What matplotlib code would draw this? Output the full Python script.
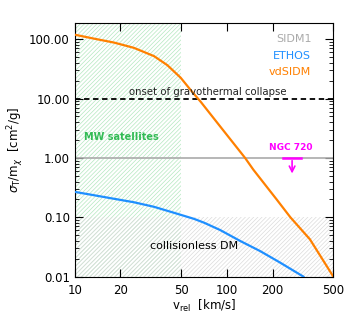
import numpy as np
import matplotlib
matplotlib.use("Agg")
import matplotlib.pyplot as plt
from matplotlib.ticker import FixedLocator, NullFormatter, LogLocator

# Data
v_vd = [10, 13.4, 18.1, 24.5, 33.2, 40.6, 49.7, 57.8, 67.3, 90.2, 131.6, 149, 212, 261, 351, 500]
s_vd = [119, 102, 87.7, 71.4, 51.8, 36.5, 22.4, 13.9, 8.8, 3.4, 1.0, 0.635, 0.2, 0.1, 0.0425, 0.01]
v_eth = [10, 13.4, 18.1, 24.5, 33.2, 44.9, 60.8, 70.8, 90.2, 122, 165, 223, 318]
s_eth = [0.268, 0.235, 0.205, 0.179, 0.150, 0.119, 0.094, 0.081, 0.061, 0.040, 0.027, 0.0173, 0.01]
sidm1 = 1.0
gravo = 10.0
xticks = [10, 20, 50, 100, 200, 500]
yticks = [0.01, 0.1, 1, 10, 100]
ytick_labels = ["0.01", "0.10", "1.00", "10.00", "100.00"]
ngc_v = 268
ngc_lim = 1.0

plt.rcParams['hatch.linewidth'] = 0.5
fig = plt.figure(figsize=(3.44, 3.14), dpi=100)
ax = fig.add_axes([0.217, 0.119, 0.752, 0.809])
ax.set_xscale('log')
ax.set_yscale('log')
ax.set_xlim(10, 500)
ax.set_ylim(0.01, 190)

# hatched regions
ax.fill_between([10, 50], [0.01, 0.01], [190, 190], facecolor='none',
                edgecolor='#b4e8c0', hatch='/' * 8, linewidth=0, zorder=0)
ax.fill_between([10, 500], [0.01, 0.01], [0.1, 0.1], facecolor='none',
                edgecolor='#dcdcdc', hatch='/' * 8, linewidth=0, zorder=0)

ax.axhline(sidm1, color='#aaaaaa', lw=1.2, zorder=2)
ax.axhline(gravo, color='black', lw=1.3, ls=(0, (3, 2)), zorder=2)
ax.plot(v_eth, s_eth, color='#1f8fff', lw=1.6, zorder=3)
ax.plot(v_vd, s_vd, color='#ff8000', lw=1.6, zorder=3)

# NGC 720 upper limit
ax.plot([ngc_v * 0.873, ngc_v * 1.145], [ngc_lim, ngc_lim], color='magenta', lw=1.8, zorder=4)
ax.annotate('', xy=(ngc_v, 0.49), xytext=(ngc_v, ngc_lim),
            arrowprops=dict(arrowstyle='->', color='magenta', lw=1.2), zorder=4)
ax.text(264, 1.5, 'NGC 720', color='magenta', fontsize=6.5,
        fontweight='bold', ha='center', va='center')

ax.text(75, 10.6, 'onset of gravothermal collapse', fontsize=7.3,
        ha='center', va='bottom', color='#222222')
ax.text(11.5, 2.28, 'MW satellites', color='#33bb55', fontsize=7,
        fontweight='bold', ha='left', va='center')
ax.text(60.7, 0.0327, 'collisionless DM', color='black', fontsize=8,
        ha='center', va='center')

ax.text(0.915, 0.955, 'SIDM1', color='#aaaaaa', fontsize=8, ha='right', va='top',
        transform=ax.transAxes)
ax.text(0.915, 0.89, 'ETHOS', color='#1f8fff', fontsize=8, ha='right', va='top',
        transform=ax.transAxes)
ax.text(0.915, 0.825, 'vdSIDM', color='#ff8000', fontsize=8, ha='right', va='top',
        transform=ax.transAxes)

ax.xaxis.set_major_locator(FixedLocator(xticks))
ax.set_xticklabels([str(t) for t in xticks])
ax.xaxis.set_minor_locator(FixedLocator([]))
ax.yaxis.set_major_locator(FixedLocator(yticks))
ax.set_yticklabels(ytick_labels)
ax.yaxis.set_minor_locator(LogLocator(base=10, subs=np.arange(2, 10)))
ax.yaxis.set_minor_formatter(NullFormatter())
ax.tick_params(which='both', direction='in', top=True, right=True, labelsize=8.5)
ax.tick_params(which='major', length=6, width=0.8)
ax.tick_params(which='minor', length=3, width=0.6)
ax.tick_params(axis='x', pad=5)
for s in ax.spines.values():
    s.set_linewidth(0.8)

ax.set_xlabel(r'v$_{\rm rel}$  [km/s]', fontsize=8.5, labelpad=1)
ax.set_ylabel(r'$\sigma_{\rm T}$/m$_\chi$  [cm$^2$/g]', fontsize=8.5, labelpad=2)

fig.savefig('out.png', dpi=100)
